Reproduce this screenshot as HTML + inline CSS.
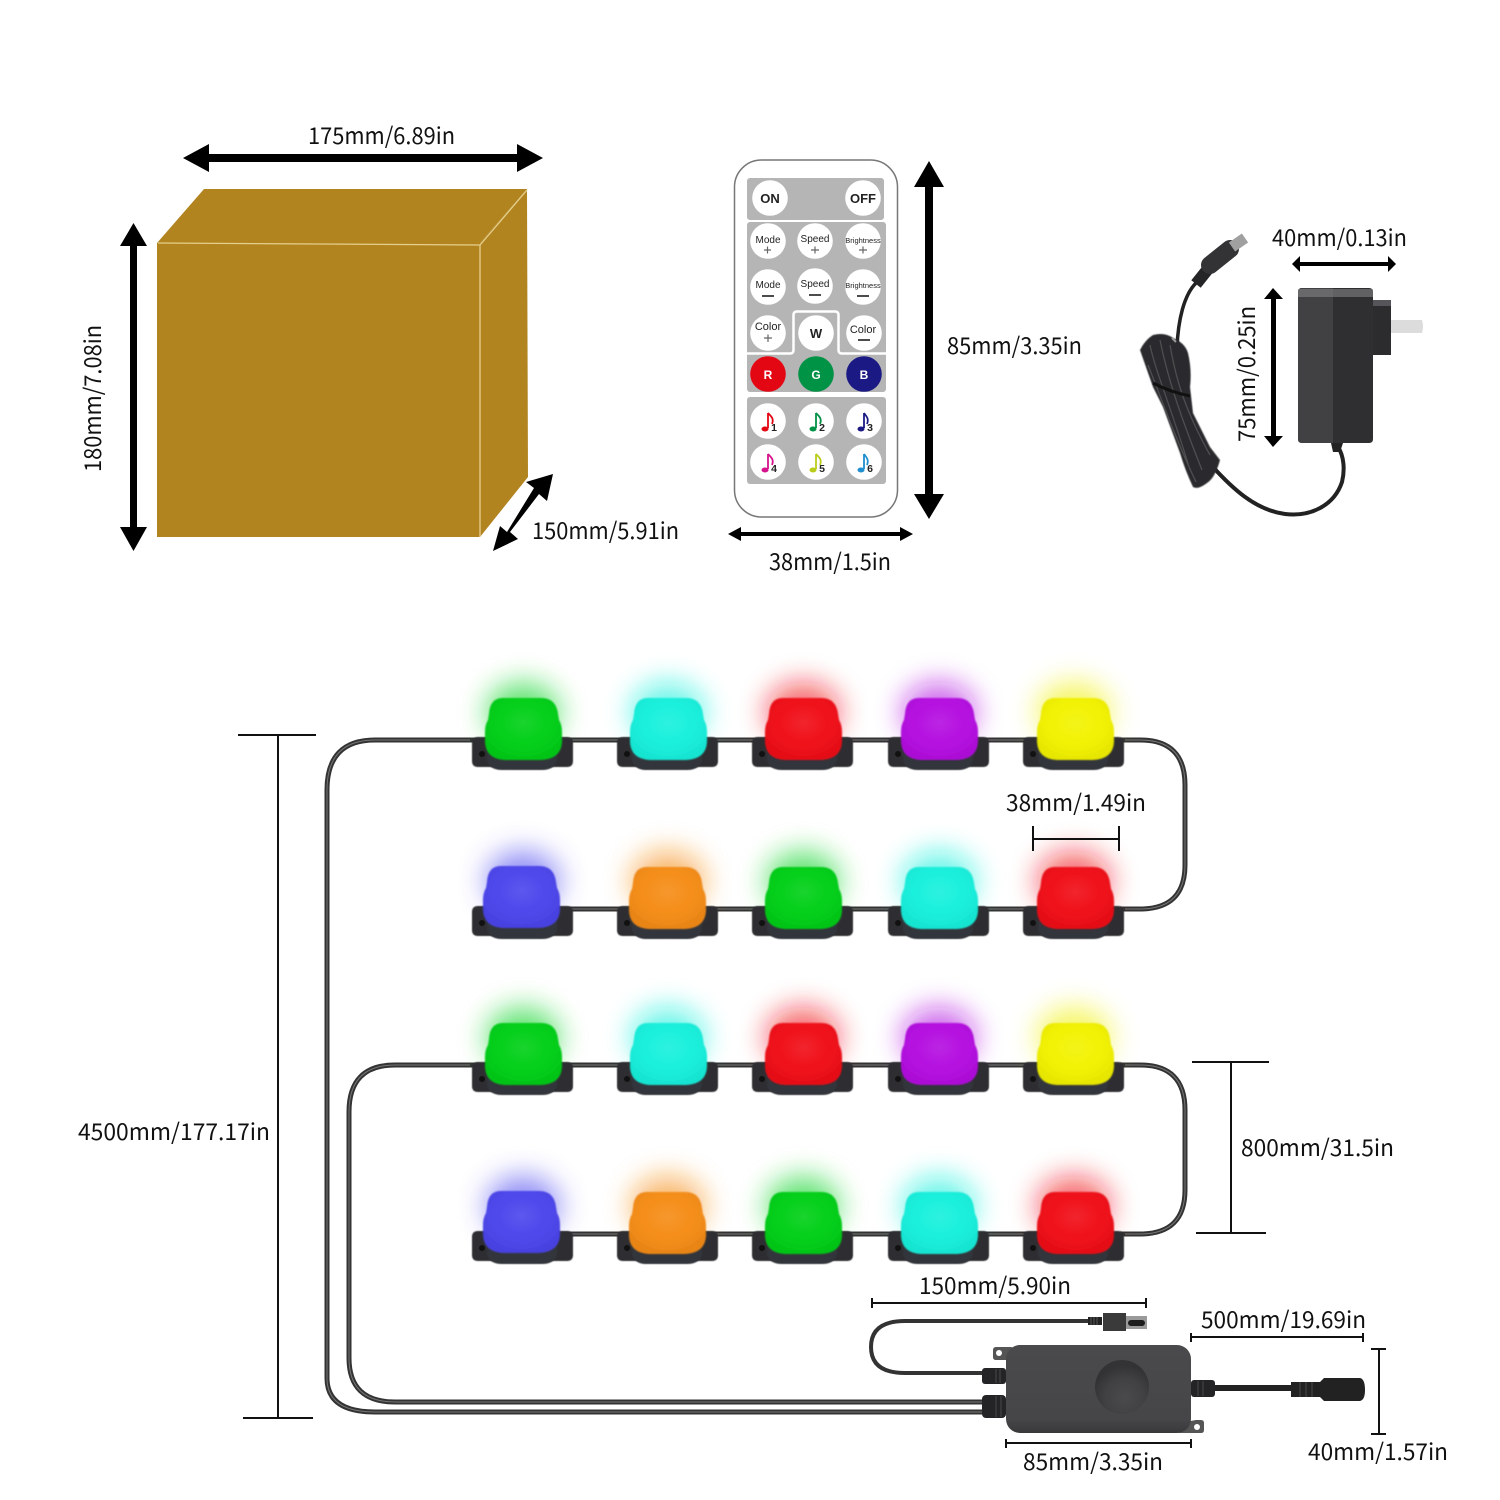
<!DOCTYPE html>
<html><head><meta charset="utf-8"><style>
html,body{margin:0;padding:0;background:#fff}
svg{display:block}
.t{font-family:"Noto Sans CJK SC","DejaVu Sans",sans-serif;font-size:23px;fill:#111}
.r{font-family:"Liberation Sans",sans-serif;text-anchor:middle;fill:#222}
</style></head><body>
<svg width="1500" height="1500" viewBox="0 0 1500 1500" xmlns="http://www.w3.org/2000/svg">
<defs>
<filter id="gl" x="-100%" y="-100%" width="300%" height="300%"><feGaussianBlur stdDeviation="14"/></filter>
<filter id="sb" x="-10%" y="-10%" width="120%" height="120%"><feGaussianBlur stdDeviation="0.8"/></filter>
<filter id="s2" x="-10%" y="-10%" width="120%" height="120%"><feGaussianBlur stdDeviation="0.5"/></filter>
<radialGradient id="hl" cx="50%" cy="40%" r="60%"><stop offset="0" stop-color="#fff" stop-opacity=".1"/><stop offset=".5" stop-color="#fff" stop-opacity=".02"/><stop offset="1" stop-color="#000" stop-opacity=".05"/></radialGradient>
<radialGradient id="kn" cx="55%" cy="70%" r="60%"><stop offset="0" stop-color="#4a4a4c"/><stop offset=".6" stop-color="#414143"/><stop offset="1" stop-color="#333335"/></radialGradient>
<linearGradient id="bx" x1="0" y1="0" x2="0" y2="1"><stop offset="0" stop-color="#4a4a4c"/><stop offset=".85" stop-color="#464648"/><stop offset="1" stop-color="#38383a"/></linearGradient>
<g id="lamp">
<ellipse cx="0" cy="-28" rx="37" ry="30" fill="currentColor" opacity=".62" filter="url(#gl)"/>
<path d="M-45 -3H44Q50 -3 50 3V21Q50 27 44 27H-45Q-51 27 -51 21V3Q-51 -3 -45 -3Z" fill="#2f2f33" filter="url(#s2)"/>
<circle cx="-41" cy="14" r="3" fill="#111"/>
<path d="M-36 10H34V20Q32 30 19 30H-21Q-34 30 -36 20Z" fill="#33363a" filter="url(#s2)"/>
</g>
<path id="dp" d="M-20 -42H18Q33 -42 35 -26L36 -20Q39 -15 39 -8V2Q38 19 18 20H-18Q-37 19 -38 2V-8Q-38 -15 -35 -20L-34 -26Q-33 -42 -20 -42Z"/>
<g id="dome">
<use href="#dp" fill="currentColor" filter="url(#sb)"/>
<use href="#dp" fill="url(#hl)" filter="url(#sb)"/>
</g>
</defs>
<rect width="1500" height="1500" fill="#fff"/>

<!-- box -->
<polygon points="157,243 204,189 527,189 480,243" fill="#b18420"/>
<polygon points="480,243 527,189 528,477 480,537" fill="#b18420"/>
<rect x="157" y="243" width="323" height="294" fill="#b18420"/>
<path d="M158 243L480 245L527 190M480 245V537" fill="none" stroke="#e6cf8c" stroke-width="1.300"/>

<!-- box arrows -->
<g fill="#000">
<polygon points="183,158 209,144 209,154 517,154 517,144 543,158 517,172 517,162 209,162 209,172"/>
<polygon points="133.500,223 147,246 137,246 137,527 147,527 133.500,551 120,527 130,527 130,246 120,246"/>
<polygon points="553,474 547,501 539,494 510,532 518,539 493,551 500,526 507,532 534,488 526,482"/>
<polygon points="929,161 944,187 933,187 933,494 944,494 929,519 914,494 925,494 925,187 914,187"/>
<polygon points="728,534 741,527 741,532 900,532 900,527 913,534 900,541 900,536 741,536 741,541"/>
<polygon points="1292,264 1300,256 1300,262 1388,262 1388,256 1396,264 1388,272 1388,266 1300,266 1300,272"/>
<polygon points="1273,288 1283,299 1276,299 1276,436 1283,436 1273,447 1264,436 1271,436 1271,299 1264,299"/>
</g>

<!-- remote -->
<rect x="734.500" y="160" width="163" height="357" rx="27" fill="#fff" stroke="#777" stroke-width="1.500"/>
<g fill="#b5b5b5">
<rect x="747" y="178" width="137" height="42" rx="3"/>
<rect x="747" y="222" width="139" height="170" rx="3"/>
<rect x="747" y="397" width="139" height="87" rx="3"/>
</g>
<path d="M747 353.500H790Q793.500 353.500 793.500 350V315Q793.500 311.500 797 311.500H835Q838.500 311.500 838.500 315V350Q838.500 353.500 842 353.500H886" fill="none" stroke="#fff" stroke-width="2.500"/>
<g fill="#fff">
<circle cx="770" cy="198" r="17.800"/><circle cx="863" cy="198" r="17.800"/>
<circle cx="768" cy="241" r="17.800"/><circle cx="815" cy="241" r="17.800"/><circle cx="863" cy="241" r="17.800"/>
<circle cx="768" cy="287" r="17.800"/><circle cx="815" cy="286" r="17.800"/><circle cx="863" cy="287" r="17.800"/>
<circle cx="768" cy="333" r="17.800"/><circle cx="816" cy="333" r="17.800"/><circle cx="864" cy="333" r="17.800"/>
<circle cx="768" cy="421" r="17.800"/><circle cx="816" cy="421" r="17.800"/><circle cx="864" cy="421" r="17.800"/>
<circle cx="768" cy="462" r="17.800"/><circle cx="816" cy="462" r="17.800"/><circle cx="864" cy="462" r="17.800"/>
</g>
<circle cx="768" cy="374" r="17.800" fill="#e30613"/><circle cx="816" cy="374" r="17.800" fill="#009245"/><circle cx="864" cy="374" r="17.800" fill="#1b1a84"/>
<g class="r">
<text x="770" y="203" font-size="13" font-weight="bold">ON</text>
<text x="863" y="203" font-size="13" font-weight="bold">OFF</text>
<text x="768" y="243" font-size="10">Mode</text><text x="815" y="242" font-size="10">Speed</text><text x="863" y="243" font-size="7.500">Brightness</text>
<text x="768" y="288" font-size="10">Mode</text><text x="815" y="287" font-size="10">Speed</text><text x="863" y="288" font-size="7.500">Brightness</text>
<text x="768" y="330" font-size="11">Color</text><text x="863" y="333" font-size="11">Color</text>
<text x="816" y="338" font-size="13" font-weight="bold">W</text>
<text x="768" y="379" font-size="12" font-weight="bold" style="fill:#fff">R</text>
<text x="816" y="379" font-size="12" font-weight="bold" style="fill:#fff">G</text>
<text x="864" y="379" font-size="12" font-weight="bold" style="fill:#fff">B</text>
<text x="774" y="431" font-size="10.500" font-weight="bold">1</text><text x="822" y="431" font-size="10.500" font-weight="bold">2</text><text x="870" y="431" font-size="10.500" font-weight="bold">3</text>
<text x="774" y="472" font-size="10.500" font-weight="bold">4</text><text x="822" y="472" font-size="10.500" font-weight="bold">5</text><text x="870" y="472" font-size="10.500" font-weight="bold">6</text>
</g>
<g stroke="#666" stroke-width="1.200" fill="none">
<path d="M764 250H771M767.500 246.500V253.500M811 250H819M815 246.500V253.500M859 250H867M863 246.500V253.500M764 338H772M768 334.500V342"/>
</g>
<g stroke="#333" stroke-width="1.800" fill="none">
<path d="M762 296H774M809 295H821M857 296H869M858 340H870"/>
</g>
<g fill="none" stroke-width="1.800">
<path d="M768 413C772 417 774 419 772 424" stroke="#e30613"/>
<path d="M816 413C820 417 822 419 820 424" stroke="#009245"/>
<path d="M864 413C867 417 869 419 867 424" stroke="#1b1a84"/>
<path d="M768 454C772 458 774 460 772 465" stroke="#d6128c"/>
<path d="M816 454C820 458 822 460 820 465" stroke="#b9cc1a"/>
<path d="M864 454C867 458 869 460 867 465" stroke="#1f8fd0"/>
</g>
<g>
<path d="M768 413V428" stroke="#e30613" stroke-width="1.800"/><ellipse cx="765" cy="429" rx="3.500" ry="2.500" fill="#e30613"/>
<path d="M816 413V428" stroke="#009245" stroke-width="1.800"/><ellipse cx="813" cy="429" rx="3.500" ry="2.500" fill="#009245"/>
<path d="M864 413V428" stroke="#1b1a84" stroke-width="1.800"/><ellipse cx="861" cy="429" rx="3.500" ry="2.500" fill="#1b1a84"/>
<path d="M768 454V469" stroke="#d6128c" stroke-width="1.800"/><ellipse cx="765" cy="470" rx="3.500" ry="2.500" fill="#d6128c"/>
<path d="M816 454V469" stroke="#b9cc1a" stroke-width="1.800"/><ellipse cx="813" cy="470" rx="3.500" ry="2.500" fill="#b9cc1a"/>
<path d="M864 454V469" stroke="#1f8fd0" stroke-width="1.800"/><ellipse cx="861" cy="470" rx="3.500" ry="2.500" fill="#1f8fd0"/>
</g>

<!-- adapter -->
<path d="M1391 320H1422Q1424 326 1422 333H1391Z" fill="#dcdcdc"/>
<rect x="1373" y="300" width="18" height="55" fill="#2c2c2e"/>
<rect x="1373" y="300" width="18" height="6" fill="#55555a"/>
<path d="M1302 288H1369Q1373 288 1373 292V439Q1373 443 1369 443H1302Q1298 443 1298 439V292Q1298 288 1302 288Z" fill="#2f2f32"/>
<path d="M1302 288H1333V443H1302Q1298 443 1298 439V292Q1298 288 1302 288Z" fill="#414144"/>
<rect x="1298" y="289" width="75" height="8" fill="#8a8a8d" opacity=".55"/>
<path d="M1338 447C1344 456 1345 470 1342 482C1334 506 1310 517 1285 514C1255 510 1232 488 1212 466" fill="none" stroke="#222" stroke-width="4"/>
<path d="M1331 443h12l-3 9h-7z" fill="#222"/>
<path d="M1196 283C1184 295 1178 320 1177 348" fill="none" stroke="#222" stroke-width="3.500"/>
<path d="M1196 284L1212 264" stroke="#252527" stroke-width="12" fill="none"/>
<path d="M1210 265L1230 249" stroke="#333336" stroke-width="18" stroke-linecap="round" fill="none"/>
<path d="M1232 247L1245 238" stroke="#a0a0a0" stroke-width="11" fill="none"/>
<path d="M1140 350Q1145 340 1153 335Q1165 332 1173 338Q1185 343 1188 353Q1192 370 1190 387L1193 413L1210 447L1220 460Q1215 478 1207 483Q1198 490 1193 487Q1185 470 1180 453L1163 407L1153 387L1147 370Z" fill="#2b2b2d" filter="url(#s2)"/>
<path d="M1150 345C1155 370 1172 410 1190 470M1160 340C1168 380 1182 420 1202 470M1170 345C1176 380 1185 410 1210 455M1148 365C1160 395 1176 440 1196 482" fill="none" stroke="#4e4e50" stroke-width="1.300"/>
<path d="M1153 383Q1170 392 1190 396" fill="none" stroke="#111" stroke-width="3"/>
<path d="M1172 338L1176 342" stroke="#999" stroke-width="2"/>

<!-- wires -->
<g fill="none" stroke="#333" stroke-width="5">
<path d="M480 740H375Q327 740 327 790V1378Q327 1412 375 1412H990"/>
<path d="M480 1065H395Q349 1065 349 1112V1358Q349 1402 395 1402H990"/>
<path d="M1120 740H1140Q1185 740 1185 785V865Q1185 909 1140 909H1120"/>
<path d="M1120 1065H1140Q1185 1065 1185 1110V1190Q1185 1234 1140 1234H1120"/>
<path d="M520 740H1080M520 909H1080M520 1065H1080M520 1234H1080"/>
<path d="M985 1373H905Q871 1373 871 1347Q871 1321 905 1321H1095" stroke-width="4"/>
<path d="M1200 1388H1295" stroke-width="6" stroke="#222"/>
</g>
<g fill="none" stroke="#777" stroke-width="1">
<path d="M470 740H375Q327 740 327 790V1378Q327 1412 375 1412H985"/>
<path d="M470 1065H395Q349 1065 349 1112V1358Q349 1402 395 1402H985"/>
<path d="M1125 740H1140Q1185 740 1185 785V865Q1185 909 1140 909H1125"/>
<path d="M1125 1065H1140Q1185 1065 1185 1110V1190Q1185 1234 1140 1234H1125"/>
<path d="M565 740H625M705 740H760M845 740H895M985 740H1030M565 909H625M705 909H760M845 909H895M985 909H1030M565 1065H625M705 1065H760M845 1065H895M985 1065H1030M565 1234H625M705 1234H760M845 1234H895M985 1234H1030"/>
</g>

<!-- lamps -->
<g style="color:#00d21a"><use href="#lamp" x="523" y="740"/></g>
<g style="color:#0ff0dc"><use href="#lamp" x="668" y="740"/></g>
<g style="color:#f01018"><use href="#lamp" x="803" y="740"/></g>
<g style="color:#b010e0"><use href="#lamp" x="939" y="740"/></g>
<g style="color:#f0f000"><use href="#lamp" x="1074" y="740"/></g>
<g style="color:#4a44ee"><use href="#lamp" x="523" y="909"/></g>
<g style="color:#f58a10"><use href="#lamp" x="668" y="909"/></g>
<g style="color:#00d21a"><use href="#lamp" x="803" y="909"/></g>
<g style="color:#0ff0dc"><use href="#lamp" x="939" y="909"/></g>
<g style="color:#f01018"><use href="#lamp" x="1074" y="909"/></g>
<g style="color:#00d21a"><use href="#lamp" x="523" y="1065"/></g>
<g style="color:#0ff0dc"><use href="#lamp" x="668" y="1065"/></g>
<g style="color:#f01018"><use href="#lamp" x="803" y="1065"/></g>
<g style="color:#b010e0"><use href="#lamp" x="939" y="1065"/></g>
<g style="color:#f0f000"><use href="#lamp" x="1074" y="1065"/></g>
<g style="color:#4a44ee"><use href="#lamp" x="523" y="1234"/></g>
<g style="color:#f58a10"><use href="#lamp" x="668" y="1234"/></g>
<g style="color:#00d21a"><use href="#lamp" x="803" y="1234"/></g>
<g style="color:#0ff0dc"><use href="#lamp" x="939" y="1234"/></g>
<g style="color:#f01018"><use href="#lamp" x="1074" y="1234"/></g>

<g style="color:#00cf12"><use href="#dome" x="523" y="740"/></g>
<g style="color:#14f0dc"><use href="#dome" x="668" y="740"/></g>
<g style="color:#f00e14"><use href="#dome" x="803" y="740"/></g>
<g style="color:#b40fe0"><use href="#dome" x="939" y="740"/></g>
<g style="color:#f2f200"><use href="#dome" x="1075" y="740"/></g>
<g style="color:#4b44ec"><use href="#dome" x="521" y="908"/></g>
<g style="color:#f58c12"><use href="#dome" x="667" y="909"/></g>
<g style="color:#00cf12"><use href="#dome" x="803" y="909"/></g>
<g style="color:#14f0dc"><use href="#dome" x="939" y="909"/></g>
<g style="color:#f00e14"><use href="#dome" x="1075" y="909"/></g>
<g style="color:#00cf12"><use href="#dome" x="523" y="1065"/></g>
<g style="color:#14f0dc"><use href="#dome" x="668" y="1065"/></g>
<g style="color:#f00e14"><use href="#dome" x="803" y="1065"/></g>
<g style="color:#b40fe0"><use href="#dome" x="939" y="1065"/></g>
<g style="color:#f2f200"><use href="#dome" x="1075" y="1065"/></g>
<g style="color:#4b44ec"><use href="#dome" x="521" y="1233"/></g>
<g style="color:#f58c12"><use href="#dome" x="667" y="1234"/></g>
<g style="color:#00cf12"><use href="#dome" x="803" y="1234"/></g>
<g style="color:#14f0dc"><use href="#dome" x="939" y="1234"/></g>
<g style="color:#f00e14"><use href="#dome" x="1075" y="1234"/></g>

<!-- controller -->
<path d="M996 1347H1012L1006 1360H996Q993 1360 993 1357V1350Q993 1347 996 1347Z" fill="#555"/><circle cx="999" cy="1353" r="3" fill="#fff"/>
<path d="M1185 1422L1196 1420H1201Q1204 1420 1204 1423V1430Q1204 1433 1201 1433H1178Z" fill="#555"/><circle cx="1197" cy="1427" r="3" fill="#fff"/>
<rect x="982" y="1368" width="24" height="16" rx="3" fill="#242426"/>
<path d="M996 1369V1383M1000 1369V1383" stroke="#444" stroke-width="1.200"/>
<rect x="982" y="1395" width="24" height="23" rx="4" fill="#242426"/>
<path d="M996 1396V1417M1001 1396V1417" stroke="#444" stroke-width="1.200"/>
<rect x="1006" y="1345" width="185" height="88" rx="14" fill="url(#bx)"/>
<circle cx="1122" cy="1387" r="27" fill="url(#kn)"/>
<rect x="1191" y="1380" width="24" height="17" rx="3" fill="#242426"/>
<path d="M1198 1381V1396M1203 1381V1396" stroke="#444" stroke-width="1.200"/>
<path d="M1291 1382H1320L1324 1378H1360Q1365 1379 1365 1390Q1365 1400 1360 1401H1324L1320 1397H1291Z" fill="#222"/>
<path d="M1300 1382V1397M1306 1382V1397M1312 1382V1397" stroke="#444" stroke-width="1.200"/>
<rect x="1088" y="1317" width="14" height="8" fill="#222"/>
<path d="M1091 1317V1325M1094 1317V1325M1097 1317V1325" stroke="#555" stroke-width="1"/>
<path d="M1103 1313H1126V1331H1103Z" fill="#3a3a3a"/>
<rect x="1126" y="1316" width="21" height="13" fill="#9a9a9a"/>
<rect x="1128" y="1320" width="17" height="6" rx="3" fill="#1d1d1d"/>

<!-- dimension lines -->
<g stroke="#111" stroke-width="2" fill="none">
<path d="M238 735H316M278 735V1418M243 1418H313"/>
<path d="M1033 826V851M1033 839H1119M1119 826V851"/>
<path d="M1192 1062H1269M1231 1062V1233M1196 1233H1266"/>
<path d="M872 1298V1308M872 1303H1146M1146 1298V1308"/>
<path d="M1191 1333V1342M1191 1337H1363M1363 1333V1342"/>
<path d="M1006 1439V1448M1006 1443H1191M1191 1439V1448"/>
<path d="M1371 1349H1386M1379 1349V1434M1371 1434H1386"/>
</g>

<!-- labels -->
<text class="t" x="308" y="144" textLength="147" lengthAdjust="spacingAndGlyphs">175mm/6.89in</text>
<text class="t" transform="translate(101,472) rotate(-90)" textLength="147" lengthAdjust="spacingAndGlyphs">180mm/7.08in</text>
<text class="t" x="532" y="539" textLength="147" lengthAdjust="spacingAndGlyphs">150mm/5.91in</text>
<text class="t" x="947" y="354" textLength="135" lengthAdjust="spacingAndGlyphs">85mm/3.35in</text>
<text class="t" x="769" y="570" textLength="122" lengthAdjust="spacingAndGlyphs">38mm/1.5in</text>
<text class="t" x="1272" y="246" textLength="135" lengthAdjust="spacingAndGlyphs">40mm/0.13in</text>
<text class="t" transform="translate(1255,442) rotate(-90)" textLength="136" lengthAdjust="spacingAndGlyphs">75mm/0.25in</text>
<text class="t" x="1006" y="811" textLength="140" lengthAdjust="spacingAndGlyphs">38mm/1.49in</text>
<text class="t" x="78" y="1140" textLength="192" lengthAdjust="spacingAndGlyphs">4500mm/177.17in</text>
<text class="t" x="1241" y="1156" textLength="153" lengthAdjust="spacingAndGlyphs">800mm/31.5in</text>
<text class="t" x="919" y="1294" textLength="152" lengthAdjust="spacingAndGlyphs">150mm/5.90in</text>
<text class="t" x="1201" y="1328" textLength="165" lengthAdjust="spacingAndGlyphs">500mm/19.69in</text>
<text class="t" x="1023" y="1470" textLength="140" lengthAdjust="spacingAndGlyphs">85mm/3.35in</text>
<text class="t" x="1308" y="1460" textLength="140" lengthAdjust="spacingAndGlyphs">40mm/1.57in</text>
</svg>
</body></html>
